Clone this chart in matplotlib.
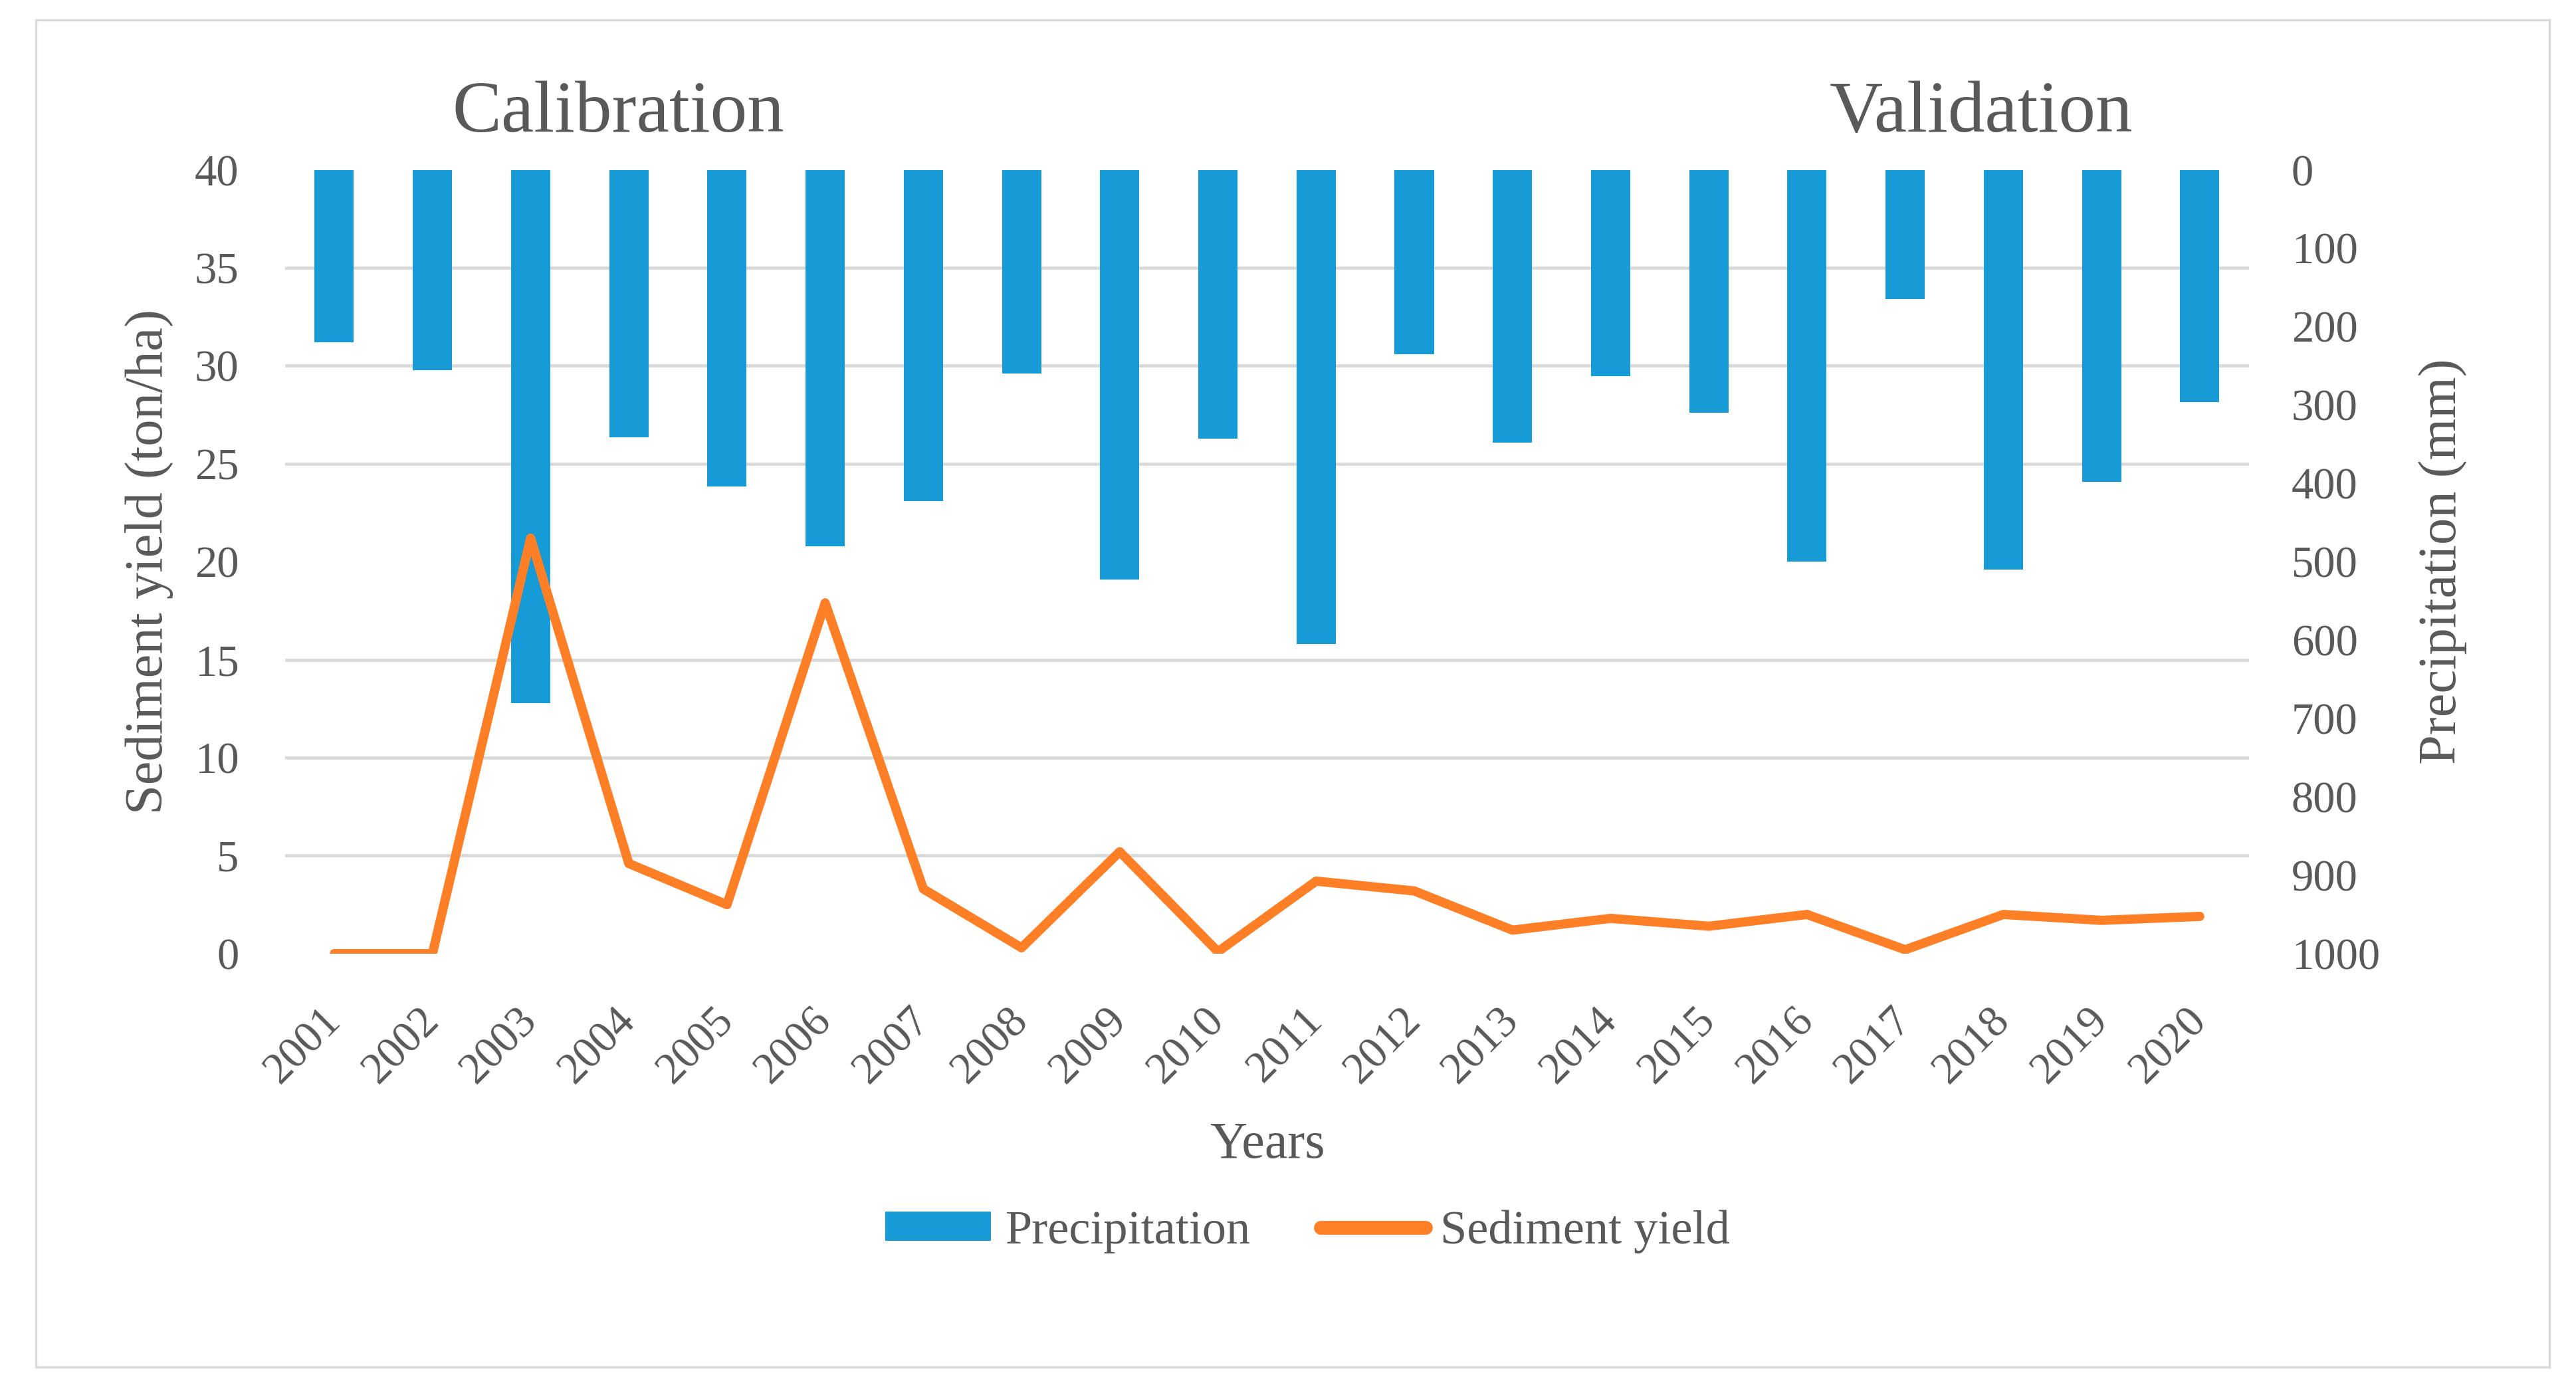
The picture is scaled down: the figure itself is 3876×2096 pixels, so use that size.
import matplotlib.pyplot as plt
from matplotlib.lines import Line2D
from matplotlib.patches import Patch, Rectangle
import numpy as np

years = [str(y) for y in range(2001, 2021)]
precipitation = [220, 256, 680, 341, 404, 480, 423, 260, 523, 343,
                 605, 235, 348, 263, 310, 500, 165, 510, 398, 296]
sediment = [0, 0, 21.2, 4.6, 2.5, 17.9, 3.3, 0.3, 5.2, 0.1,
            3.7, 3.2, 1.2, 1.8, 1.4, 2.0, 0.2, 2.0, 1.7, 1.9]
left_ticks = list(range(0, 41, 5))
right_ticks = list(range(0, 1001, 100))

blue = "#169BD6"
orange = "#FF7F27"
grey_text = "#595959"
grid_col = "#D9D9D9"

plt.rcParams["font.family"] = ["Liberation Serif", "DejaVu Serif"]

fig = plt.figure(figsize=(19.38, 10.48), dpi=200)
ax = fig.add_axes([0.1107, 0.3154, 0.873 - 0.1107, 0.8781 - 0.3154])
axp = ax.twinx()
ax.set_zorder(axp.get_zorder() + 1)
ax.patch.set_visible(False)

x = np.arange(len(years))

# precipitation bars on the inverted right axis
axp.bar(x, precipitation, width=0.4, color=blue, zorder=2)
axp.set_ylim(1000, 0)
axp.set_yticks(right_ticks)
axp.set_yticks(np.linspace(0, 1000, 9), minor=True)
axp.grid(which="minor", axis="y", color=grid_col, linewidth=1.7, zorder=0)
axp.set_axisbelow(True)
axp.tick_params(axis="y", which="both", length=0, labelsize=24,
                labelcolor=grey_text, pad=23)
axp.set_ylabel("Precipitation (mm)", fontsize=29, color=grey_text)
axp.yaxis.set_label_coords(1.0866, 0.5)

# sediment yield line on the left axis
ax.plot(x, sediment, color=orange, linewidth=5,
        solid_joinstyle="round", solid_capstyle="round", zorder=3)
ax.set_ylim(0, 40)
ax.set_yticks(left_ticks)
ax.set_xlim(-0.5, len(years) - 0.5)
ax.set_xticks(x)
ax.set_xticklabels(years, rotation=45, ha="right", va="center",
                   rotation_mode="anchor")
ax.tick_params(axis="x", length=0, labelsize=24, labelcolor=grey_text, pad=33)
ax.tick_params(axis="y", length=0, labelsize=24, labelcolor=grey_text, pad=25)
ax.set_ylabel("Sediment yield (ton/ha)", fontsize=29, color=grey_text)
ax.yaxis.set_label_coords(-0.057, 0.5)
ax.set_xlabel("Years", fontsize=28, color=grey_text)
ax.xaxis.set_label_coords(0.5, -0.2145)

for a in (ax, axp):
    for s in a.spines.values():
        s.set_visible(False)

fig.text(0.240, 0.9055, "Calibration", fontsize=40, color=grey_text,
         ha="center", va="baseline")
fig.text(0.769, 0.9055, "Validation", fontsize=40, color=grey_text,
         ha="center", va="baseline")

handles = [Patch(facecolor=blue, edgecolor="none"),
           Line2D([], [], color=orange, linewidth=7.5, solid_capstyle="round")]
leg = fig.legend(handles, ["Precipitation", "Sediment yield"], loc="center",
                 bbox_to_anchor=(0.5076, 0.116), ncol=2, frameon=False,
                 fontsize=26, handlelength=2.2, handleheight=0.55,
                 handletextpad=0.3, columnspacing=1.45)
for t in leg.get_texts():
    t.set_color(grey_text)

fig.patches.append(Rectangle((0.0139, 0.0186), 0.9897 - 0.0139, 0.9857 - 0.0186,
                             transform=fig.transFigure, fill=False,
                             edgecolor=grid_col, linewidth=1.2))

fig.savefig("out.png", dpi=200, facecolor="white")
